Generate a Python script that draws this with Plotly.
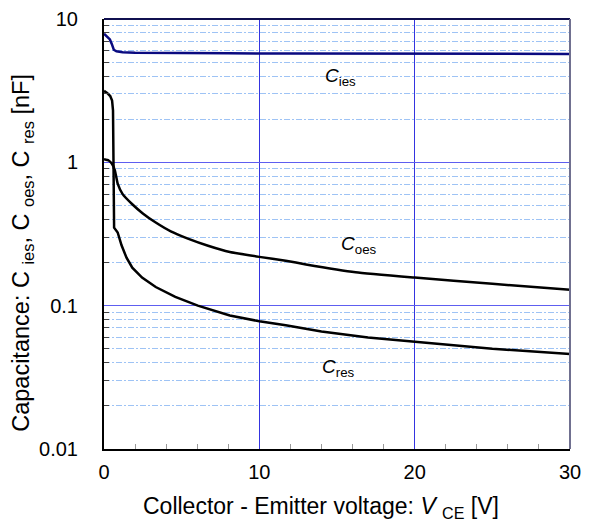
import math
import plotly.graph_objects as go

# Data
vce_ies = [0, 0.2, 0.38, 0.5, 0.63, 0.8, 1.2, 2, 4, 8, 12, 16, 20, 25, 30]
c_ies = [7.9, 7.5, 7.2, 6.7, 6.1, 5.95, 5.87, 5.82, 5.78, 5.76, 5.75, 5.74, 5.73, 5.72, 5.7]

vce_oes = [0, 0.3, 0.5, 0.7, 0.88, 1.2, 1.82, 2.5, 3.33, 4.3, 5.4, 6.7, 8.1, 10, 11.7, 13, 16.2, 20, 25, 30]
c_oes = [1.05, 1.03, 0.98, 0.88, 0.71, 0.6, 0.51, 0.44, 0.38, 0.33, 0.294, 0.262, 0.237, 0.219, 0.206, 0.194, 0.171, 0.157, 0.142, 0.129]

vce_res = [0, 0.2, 0.4, 0.52, 0.58, 0.61, 0.63, 0.65, 0.88, 1.13, 1.45, 1.82, 2.45, 3.33, 4.59, 6.04, 8.1, 10, 11.7, 14, 17, 20, 25, 30]
c_res = [3.15, 3.05, 2.9, 2.7, 2.3, 1.2, 0.6, 0.35, 0.324, 0.264, 0.216, 0.184, 0.157, 0.135, 0.115, 0.1, 0.0855, 0.0778, 0.073, 0.066, 0.06, 0.056, 0.05, 0.046]

x_ticks = [0, 10, 20, 30]
x_minor_ticks = [2, 4, 6, 8, 12, 14, 16, 18, 22, 24, 26, 28]
y_ticks = [0.01, 0.1, 1, 10]
y_tick_text = ["0.01", "0.1", "1", "10"]
y_minor_ticks = [m * d for d in (0.01, 0.1, 1) for m in range(2, 10)]

labels = [
    ("<i>C</i><sub>ies</sub>", 15.2, 3.95),
    ("<i>C</i><sub>oes</sub>", 16.4, 0.265),
    ("<i>C</i><sub>res</sub>", 15.1, 0.037),
]

x_title = "Collector - Emitter voltage: <i>V</i> <sub>CE</sub> [V]"
y_title = "Capacitance: C <sub>ies</sub>, C <sub>oes</sub>, C <sub>res</sub> [nF]"

FONT = "Liberation Sans, Arial, sans-serif"

fig = go.Figure()
fig.add_trace(go.Scatter(x=vce_ies, y=c_ies, mode="lines",
                         line=dict(color="#0a0a80", width=2.5), showlegend=False))
fig.add_trace(go.Scatter(x=vce_oes, y=c_oes, mode="lines",
                         line=dict(color="black", width=2.5, shape="spline", smoothing=0.4),
                         showlegend=False))
fig.add_trace(go.Scatter(x=vce_res, y=c_res, mode="lines",
                         line=dict(color="black", width=2.5), showlegend=False))

for txt, x, y in labels:
    fig.add_annotation(x=x, y=math.log10(y), text=txt, showarrow=False,
                       font=dict(size=19, color="black", family=FONT))

# axis titles placed as annotations (reference title is off-centre)
fig.add_annotation(xref="paper", yref="paper", x=(326 - 104) / 476, y=-(509 - 449) / 441,
                   text=x_title, showarrow=False, xanchor="center", yanchor="middle",
                   font=dict(size=23, color="black", family=FONT))
fig.add_annotation(xref="paper", yref="paper", x=-(104 - 20) / 476, y=(449 - 248) / 441,
                   text=y_title, showarrow=False, textangle=-90, xanchor="center", yanchor="middle",
                   font=dict(size=23.5, color="black", family=FONT))

fig.update_xaxes(
    range=[0, 30], tickvals=x_ticks, ticks="", showgrid=True,
    gridcolor="#3434e0", gridwidth=1, zeroline=False,
    showline=True, linecolor="black", linewidth=2,
    ticklabeloverflow="allow", ticklabelstandoff=4,
    tickfont=dict(size=20, color="black", family=FONT),
    minor=dict(tickvals=x_minor_ticks, ticks="inside", ticklen=5, tickcolor="#999999",
               tickwidth=1, showgrid=False),
)
fig.update_yaxes(
    type="log", range=[-2, 1], tickvals=y_ticks, ticktext=y_tick_text, ticks="",
    showgrid=True, gridcolor="#5e5ef0", gridwidth=1, zeroline=False,
    showline=True, linecolor="black", linewidth=2,
    ticklabeloverflow="allow", ticklabelstandoff=20,
    tickfont=dict(size=20, color="black", family=FONT),
    minor=dict(tickvals=y_minor_ticks, ticks="inside", ticklen=5, tickcolor="#444444",
               tickwidth=1, showgrid=True, gridcolor="#9ec3f5",
               griddash="6px,2px,2px,2px", gridwidth=1),
)

# top and right frame lines
fig.add_shape(type="line", xref="paper", yref="paper", x0=0, x1=1, y0=1, y1=1,
              line=dict(color="#101050", width=2))
fig.add_shape(type="line", xref="paper", yref="paper", x0=1, x1=1, y0=0, y1=1,
              line=dict(color="#707090", width=2))

fig.update_layout(
    width=589, height=521,
    margin=dict(l=104, r=9, t=8, b=72),
    plot_bgcolor="white", paper_bgcolor="white",
    font=dict(family=FONT, color="black"),
)

fig.write_html("out.html", config={"displayModeBar": False},
               post_script="document.body.style.margin='0';")
